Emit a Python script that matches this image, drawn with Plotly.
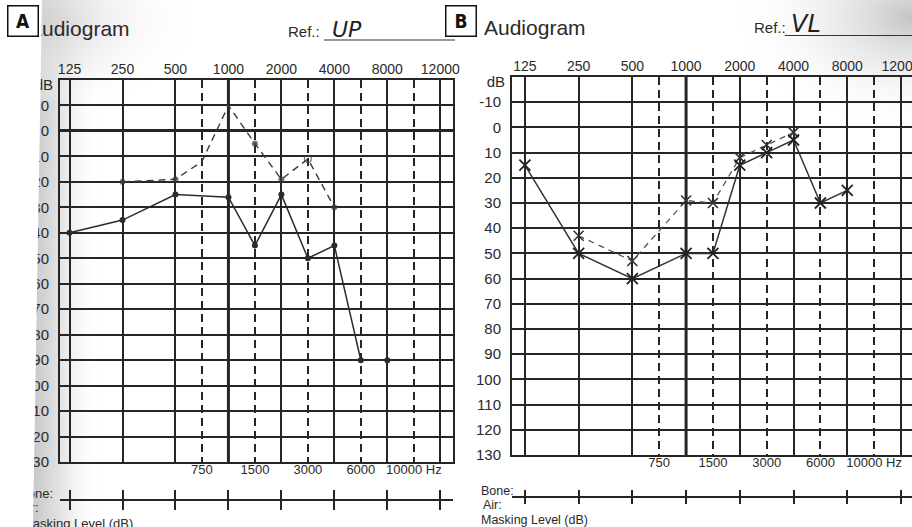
import base64
import plotly.graph_objects as go

W, H = 912, 527

# ---------------- data ----------------
octave_freqs = [125, 250, 500, 1000, 2000, 4000, 8000, 12000]
half_freqs = [750, 1500, 3000, 6000, 10000]
top_labels = ["125", "250", "500", "1000", "2000", "4000", "8000", "12000"]
bottom_labels = ["750", "1500", "3000", "6000", "10000 Hz"]
db_ticks = [-10, 0, 10, 20, 30, 40, 50, 60, 70, 80, 90, 100, 110, 120, 130]
db_labels = ["-10", "0", "10", "20", "30", "40", "50", "60", "70", "80",
             "90", "100", "110", "120", "130"]

# Panel A (UP) - circles
a_solid_freq = [125, 250, 500, 1000, 1500, 2000, 3000, 4000, 6000, 8000]
a_solid_db = [40, 35, 25, 26, 45, 25, 50, 45, 90, 90]
a_dash_freq = [250, 500, 750, 1000, 1500, 2000, 3000, 4000]
a_dash_db = [20, 19, 12, -10, 5, 19, 11, 30]

# Panel B (VL) - crosses
b_solid_freq = [125, 250, 500, 1000, 1500, 2000, 3000, 4000, 6000, 8000]
b_solid_db = [15, 50, 60, 50, 50, 15, 10, 5, 30, 25]
b_dash_freq = [250, 500, 1000, 1500, 2000, 3000, 4000]
b_dash_db = [43, 53, 29, 30, 12, 7, 2]


def slot(f):
    """Position of a frequency on the printed form: octaves equally spaced,
    intermediate frequencies halfway between their neighbouring octaves."""
    if f in octave_freqs:
        return octave_freqs.index(f)
    lower = max(i for i, o in enumerate(octave_freqs) if o < f)
    return lower + 0.5


def px(x):
    return x / W


def py(y):
    return 1 - y / H


def lk(a):
    return a[0] + "axis" + a[1:]


INK = "#262626"
TXT = "#2a2a2a"
FONT = "Liberation Sans, Arial, sans-serif"

panels = [
    dict(x="x", y="y", xb="x3", yd="y3", xr="x5", yr="y5",
         xdom=(60, 453), ydom=(80, 462), xrange=[-0.18, 7.24],
         row=(490, 510), bold_zero=True, right=True),
    dict(x="x2", y="y2", xb="x4", yd="y4", xr="x6", yr="y6",
         xdom=(512, 912), ydom=(77, 455), xrange=[-0.24, 7.205],
         row=(490, 504), bold_zero=False, right=False),
]

layout = dict(
    width=W, height=H, autosize=False,
    margin=dict(l=0, r=0, t=0, b=0),
    template="none",
    paper_bgcolor="white",
    plot_bgcolor="rgba(0,0,0,0)",
    showlegend=False,
)

fig = go.Figure()
shapes = []

for p in panels:
    x0, x1 = p["xdom"]
    y0, y1 = p["ydom"]
    xdom = [px(x0), px(x1)]
    ydom = [py(y1), py(y0)]
    common = dict(automargin=False, fixedrange=True, ticklabeloverflow="allow")

    layout[lk(p["x"])] = dict(
        domain=xdom, range=p["xrange"], anchor=p["y"], side="top",
        tickmode="array", tickvals=[slot(f) for f in octave_freqs], ticktext=top_labels,
        ticks="", ticklabelstandoff=-2,
        tickfont=dict(family=FONT, size=14, color=TXT),
        showgrid=True, gridcolor=INK, gridwidth=2,
        minor=dict(tickmode="array", tickvals=[slot(f) for f in half_freqs], showgrid=True,
                   gridcolor=INK, gridwidth=2, griddash="8px,5px", ticks=""),
        showline=True, linecolor=INK, linewidth=2, mirror=True, zeroline=False, **common)
    layout[lk(p["y"])] = dict(
        domain=ydom, range=[130, -20], anchor=p["x"],
        tickmode="array", tickvals=db_ticks, ticktext=db_labels,
        ticks="", ticklabelstandoff=6,
        tickfont=dict(family=FONT, size=15, color=TXT),
        showgrid=True, gridcolor=INK, gridwidth=2,
        zeroline=p["bold_zero"], zerolinecolor=INK, zerolinewidth=3,
        showline=True, linecolor=INK, linewidth=2, mirror=p["right"], **common)
    # bottom frequency labels (intermediate frequencies)
    layout[lk(p["xb"])] = dict(
        overlaying=p["x"], anchor=p["y"], side="bottom", range=p["xrange"],
        tickmode="array", tickvals=[slot(f) for f in half_freqs], ticktext=bottom_labels,
        ticks="", ticklabelstandoff=-2,
        tickfont=dict(family=FONT, size=13, color=TXT),
        showgrid=False, zeroline=False, showline=False, **common)
    # "dB" caption on the level axis
    layout[lk(p["yd"])] = dict(
        overlaying=p["y"], anchor=p["x"], side="left", range=[130, -20],
        tickmode="array", tickvals=[-18], ticktext=["dB"],
        ticks="", ticklabelstandoff=6,
        tickfont=dict(family=FONT, size=15, color=TXT),
        showgrid=False, zeroline=False, showline=False, **common)
    # Bone / Air masking row
    r0, r1 = p["row"]
    layout[lk(p["xr"])] = dict(
        domain=xdom, range=p["xrange"], anchor=p["yr"],
        tickmode="array", tickvals=[slot(f) for f in octave_freqs],
        showticklabels=False, ticks="",
        showgrid=True, gridcolor=INK, gridwidth=2,
        zeroline=False, showline=False, **common)
    layout[lk(p["yr"])] = dict(
        domain=[py(r1), py(r0)], range=[-1, 1], anchor=p["xr"],
        showticklabels=False, ticks="", showgrid=False,
        zeroline=True, zerolinecolor=INK, zerolinewidth=2, showline=False, **common)

    # bold 1000 Hz line
    shapes.append(dict(type="line", xref=p["x"], yref=p["y"] + " domain",
                       x0=slot(1000), x1=slot(1000), y0=0, y1=1,
                       line=dict(color=INK, width=3), layer="below"))

    for xa, ya in [(p["xb"], p["y"]), (p["x"], p["yd"]), (p["xr"], p["yr"])]:
        fig.add_trace(go.Scatter(x=[None], y=[None], xaxis=xa, yaxis=ya,
                                 mode="markers", hoverinfo="skip"))

# pixel overlay axes for page texts of the scan
layout["xaxis7"] = dict(domain=[0, 1], range=[0, W], visible=False, fixedrange=True, anchor="y7")
layout["yaxis7"] = dict(domain=[0, 1], range=[H, 0], visible=False, fixedrange=True, anchor="x7")

# ---------------- data traces ----------------
fig.add_trace(go.Scatter(
    x=[slot(f) for f in a_dash_freq], y=a_dash_db, xaxis="x", yaxis="y",
    mode="lines+markers",
    line=dict(color="#3a3a3a", width=1.4, dash="7px,5px"),
    marker=dict(symbol=["circle", "circle", "circle", "circle", "circle", "circle",
                        "circle-open", "circle"],
                size=[5, 5, 0, 0, 5, 5, 7, 5], color="#3a3a3a",
                line=dict(color="#3a3a3a", width=1.2))))
fig.add_trace(go.Scatter(
    x=[slot(f) for f in a_solid_freq], y=a_solid_db, xaxis="x", yaxis="y",
    mode="lines+markers",
    line=dict(color="#2b2b2b", width=1.5),
    marker=dict(symbol="circle", size=6, color="#2b2b2b")))

fig.add_trace(go.Scatter(
    x=[slot(f) for f in b_dash_freq], y=b_dash_db, xaxis="x2", yaxis="y2",
    mode="lines+markers",
    line=dict(color="#555555", width=1.3, dash="6px,5px"),
    marker=dict(symbol="x-thin", size=10, line=dict(color="#333333", width=1.6))))
fig.add_trace(go.Scatter(
    x=[slot(f) for f in b_solid_freq], y=b_solid_db, xaxis="x2", yaxis="y2",
    mode="lines+markers",
    line=dict(color="#333333", width=1.5),
    marker=dict(symbol="x-thin", size=11, line=dict(color="#222222", width=1.8))))

# texts of panel A that the scan crop cuts at its left edge
fig.add_trace(go.Scatter(
    x=[28, 53, 19, 22], y=[31, 495, 509, 525], xaxis="x7", yaxis="y7",
    mode="text", text=["Audiogram", "Bone:", "Air:", "Masking Level (dB)"],
    textposition=["middle right", "middle left", "middle right", "middle right"],
    textfont=dict(family=FONT, size=[21, 13, 13, 13], color=TXT),
    cliponaxis=False, hoverinfo="skip"))

# ---------------- scan shading ----------------
svg = (
    '<svg xmlns="http://www.w3.org/2000/svg" width="912" height="527" '
    'viewBox="0 0 912 527" preserveAspectRatio="none">'
    '<defs>'
    '<linearGradient id="ga" x1="0" y1="0" x2="1" y2="0">'
    '<stop offset="0" stop-color="#c8c8c8"/>'
    '<stop offset="0.4" stop-color="#e4e4e4"/>'
    '<stop offset="1" stop-color="#ffffff" stop-opacity="0"/></linearGradient>'
    '<radialGradient id="gt" cx="0" cy="0.2" r="1">'
    '<stop offset="0" stop-color="#cfcfcf"/>'
    '<stop offset="1" stop-color="#ffffff" stop-opacity="0"/></radialGradient>'
    '<radialGradient id="gb" cx="1" cy="0.15" r="1">'
    '<stop offset="0" stop-color="#c4c4c4"/>'
    '<stop offset="1" stop-color="#ffffff" stop-opacity="0"/></radialGradient>'
    '</defs>'
    '<rect x="33" y="0" width="70" height="527" fill="url(#ga)"/>'
    '<rect x="33" y="0" width="170" height="100" fill="url(#gt)"/>'
    '<rect x="730" y="0" width="182" height="115" fill="url(#gb)"/>'
    '</svg>'
)
uri = "data:image/svg+xml;base64," + base64.b64encode(svg.encode()).decode()
layout["images"] = [dict(source=uri, xref="paper", yref="paper", x=0, y=1,
                         sizex=1, sizey=1, sizing="stretch",
                         xanchor="left", yanchor="top", layer="below")]

# white page outside the cropped scan of panel A
shapes.append(dict(type="path", xref="paper", yref="paper",
                   path=f"M 0,1 L {px(42)},1 L {px(33)},0 L 0,0 Z",
                   fillcolor="white", line=dict(width=0), layer="above"))
# Ref. underlines
shapes.append(dict(type="line", xref="paper", yref="paper",
                   x0=px(324), x1=px(455), y0=py(40), y1=py(40),
                   line=dict(color="#333", width=1.2)))
shapes.append(dict(type="line", xref="paper", yref="paper",
                   x0=px(785), x1=px(912), y0=py(35.5), y1=py(35.5),
                   line=dict(color="#333", width=1.2)))
layout["shapes"] = shapes


def note(text, x, y, size, xanchor="left", family=FONT, color=TXT, **kw):
    return dict(xref="paper", yref="paper", x=px(x), y=py(y), xanchor=xanchor,
                yanchor="middle", text=text, showarrow=False,
                font=dict(family=family, size=size, color=color), **kw)


ann = []
for lab, cx in [("A", 22.5), ("B", 461.5)]:
    ann.append(note(f"<b>{lab}</b>", cx, 21.5, 19, xanchor="center",
                    family="DejaVu Sans Condensed, Liberation Sans Narrow, sans-serif",
                    color="#111", width=28, height=28, borderpad=0.5,
                    bordercolor="#111", borderwidth=1.5, bgcolor="white"))
ann.append(note("Audiogram", 482, 28, 21))
ann.append(note("Ref.:", 286, 31, 15))
ann.append(note("Ref.:", 752, 27, 15))
ann.append(note("<i>UP</i>", 330, 30, 22, family="DejaVu Sans", color="#222"))
ann.append(note("<i>VL</i>", 789, 24, 24, family="DejaVu Sans", color="#222"))
# B panel masking captions
ann.append(note("Bone:", 479, 490.5, 12.5))
ann.append(note("Air:", 481, 505, 12.5))
ann.append(note("Masking Level (dB)", 479, 520, 12.5))
layout["annotations"] = ann

fig.update_layout(**layout)
fig.write_html(
    "out.html",
    config={"displayModeBar": False, "staticPlot": True},
    post_script="document.body.style.margin='0';document.body.style.padding='0';"
                "document.body.style.overflow='hidden';",
)
